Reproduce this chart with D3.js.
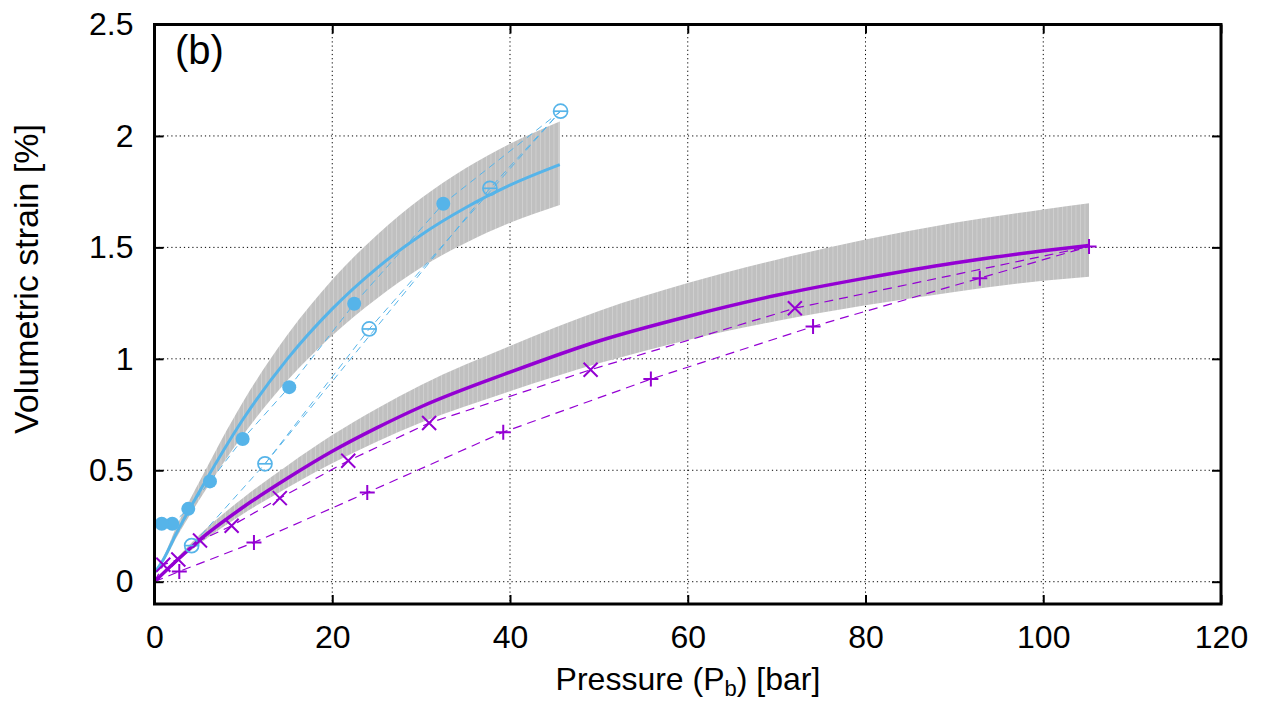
<!DOCTYPE html>
<html>
<head>
<meta charset="utf-8">
<script src="https://cdn.jsdelivr.net/npm/d3@7"></script>
<style>
  html, body { margin: 0; padding: 0; background: #fff; }
  svg { display: block; font-family: "Liberation Sans", Arial, Helvetica, sans-serif; }
</style>
</head>
<body>
<svg id="chart" width="1264" height="703"></svg>
<script>
// ---------------- data ----------------
const xTicks = [0, 20, 40, 60, 80, 100, 120];
const yTicks = [0, 0.5, 1, 1.5, 2, 2.5];
const yTickLabels = ["0", "0.5", "1", "1.5", "2", "2.5"];

// blue fit curve and its uncertainty band
const blueFitX = [0, 1, 2.5, 5, 10, 15, 20, 25, 30, 35, 40, 45.6];
const blueFitY = [0.04, 0.10, 0.22, 0.40, 0.731, 1.002, 1.224, 1.406, 1.556, 1.678, 1.779, 1.871];
const blueBandUpper = [0.04, 0.11, 0.25, 0.445, 0.81, 1.11, 1.355, 1.555, 1.72, 1.855, 1.965, 2.065];
const blueBandLower = [0.04, 0.09, 0.20, 0.364, 0.66, 0.905, 1.105, 1.27, 1.41, 1.52, 1.61, 1.69];

// purple fit curve and its uncertainty band
const purpleFitX = [0, 2.5, 5, 10, 15, 20, 25, 30, 40, 50, 60, 70, 80, 90, 100, 105.15];
const purpleFitY = [0, 0.095, 0.185, 0.335, 0.465, 0.585, 0.69, 0.785, 0.94, 1.08, 1.19, 1.285, 1.362, 1.43, 1.485, 1.508];
const purpleBandUpper = [0, 0.105, 0.208, 0.377, 0.523, 0.658, 0.776, 0.883, 1.058, 1.215, 1.34, 1.445, 1.535, 1.61, 1.67, 1.698];
const purpleBandLower = [0, 0.087, 0.168, 0.305, 0.423, 0.532, 0.628, 0.714, 0.855, 0.98, 1.085, 1.17, 1.24, 1.30, 1.35, 1.368];

// blue measurements: open circles (loading) and filled circles (unloading)
const blueOpenX = [4.18, 12.43, 24.16, 37.74, 45.69];
const blueOpenY = [0.162, 0.529, 1.134, 1.765, 2.111];
const blueFilledX = [32.49, 22.47, 15.16, 9.92, 6.24, 3.8, 2.0, 0.81];
const blueFilledY = [1.696, 1.247, 0.873, 0.64, 0.45, 0.327, 0.26, 0.26];
// dashed connection paths of the blue measurements
const blueLoadPathX = [0.4, 4.18, 12.43, 24.16, 45.69];
const blueLoadPathY = [0.02, 0.162, 0.529, 1.134, 2.111];
const blueLoad2PathX = [12.43, 37.74, 45.69];
const blueLoad2PathY = [0.529, 1.765, 2.111];
const blueUnloadPathX = [45.69, 32.49, 22.47, 15.16, 9.92, 6.24, 3.8, 2.0, 0.81];
const blueUnloadPathY = [2.111, 1.696, 1.247, 0.873, 0.64, 0.45, 0.327, 0.26, 0.26];

// purple measurements: crosses (x) and plus signs (+)
const crossX = [0.99, 2.68, 5.12, 8.68, 14.1, 21.8, 30.9, 49.07, 72.05];
const crossY = [0.076, 0.100, 0.185, 0.251, 0.375, 0.543, 0.712, 0.951, 1.227];
const plusX = [2.79, 11.19, 23.94, 39.24, 55.85, 74.1, 92.86, 105.15];
const plusY = [0.046, 0.176, 0.400, 0.671, 0.909, 1.145, 1.362, 1.504];
const crossPathX = [0, 0.99, 2.68, 5.12, 8.68, 14.1, 21.8, 30.9, 49.07, 72.05, 105.15];
const crossPathY = [0, 0.076, 0.100, 0.185, 0.251, 0.375, 0.543, 0.712, 0.951, 1.227, 1.504];
const plusPathX = [0, 2.79, 11.19, 23.94, 39.24, 55.85, 74.1, 92.86, 105.15];
const plusPathY = [0, 0.046, 0.176, 0.400, 0.671, 0.909, 1.145, 1.362, 1.504];

// ---------------- styles ----------------
const BLUE = "#56b4e9";
const PURPLE = "#9400d3";
const BAND = "#c0c0c0";
const FONT = "'Liberation Sans', Arial, sans-serif";

const L = 154.5, R = 1221, T = 24.5, B = 604;
const svg = d3.select("#chart");

const x = d3.scaleLinear().domain([0, 120]).range([L, R]);
const y = d3.scaleLinear().domain([-0.1, 2.5]).range([B, T]);

const zip = (xs, ys) => xs.map((v, i) => [v, ys[i]]);

// stripe pattern for the bands
const defs = svg.append("defs");
const pat = defs.append("pattern").attr("id", "stripes").attr("patternUnits", "userSpaceOnUse")
  .attr("width", 4.5).attr("height", 10);
pat.append("rect").attr("width", 4.5).attr("height", 10).attr("fill", BAND);
pat.append("rect").attr("x", 0).attr("width", 0.8).attr("height", 10).attr("fill", "#d2d2d2");

defs.append("clipPath").attr("id", "plotclip").append("rect")
  .attr("x", L).attr("y", T).attr("width", R - L).attr("height", B - T);

// grid
const grid = svg.append("g");
grid.selectAll("line.gx").data(xTicks.filter(d => d > 0 && d < 120)).join("line")
  .attr("x1", d => x(d)).attr("x2", d => x(d)).attr("y1", T).attr("y2", B)
  .attr("stroke", "#000").attr("stroke-width", 1).attr("stroke-dasharray", "1.2,3");
grid.selectAll("line.gy").data(yTicks.filter(d => d < 2.5)).join("line")
  .attr("x1", L).attr("x2", R).attr("y1", d => y(d)).attr("y2", d => y(d))
  .attr("stroke", "#000").attr("stroke-width", 1).attr("stroke-dasharray", "1.2,3");

const plot = svg.append("g").attr("clip-path", "url(#plotclip)");

// bands
const area = d3.area().x(d => x(d[0])).y0(d => y(d[1])).y1(d => y(d[2])).curve(d3.curveMonotoneX);
plot.append("path")
  .datum(blueFitX.map((v, i) => [v, blueBandLower[i], blueBandUpper[i]]))
  .attr("d", area).attr("fill", "url(#stripes)");
plot.append("path")
  .datum(purpleFitX.map((v, i) => [v, purpleBandLower[i], purpleBandUpper[i]]))
  .attr("d", area).attr("fill", "url(#stripes)");

const lineLin = d3.line().x(d => x(d[0])).y(d => y(d[1]));
const lineSmooth = d3.line().x(d => x(d[0])).y(d => y(d[1])).curve(d3.curveMonotoneX);

// dashed measurement paths
[[blueLoadPathX, blueLoadPathY], [blueLoad2PathX, blueLoad2PathY], [blueUnloadPathX, blueUnloadPathY]]
  .forEach(([xs, ys]) => {
    plot.append("path").datum(zip(xs, ys)).attr("d", lineLin)
      .attr("fill", "none").attr("stroke", BLUE).attr("stroke-width", 1)
      .attr("stroke-dasharray", "7,5");
  });
[[crossPathX, crossPathY], [plusPathX, plusPathY]].forEach(([xs, ys]) => {
  plot.append("path").datum(zip(xs, ys)).attr("d", lineLin)
    .attr("fill", "none").attr("stroke", PURPLE).attr("stroke-width", 1.2)
    .attr("stroke-dasharray", "9,6");
});

// fit curves
plot.append("path").datum(zip(blueFitX, blueFitY)).attr("d", lineSmooth)
  .attr("fill", "none").attr("stroke", BLUE).attr("stroke-width", 3);
plot.append("path").datum(zip(purpleFitX, purpleFitY)).attr("d", lineSmooth)
  .attr("fill", "none").attr("stroke", PURPLE).attr("stroke-width", 3.5);

// markers
const marks = svg.append("g");
marks.selectAll("circle.filled").data(zip(blueFilledX, blueFilledY)).join("circle")
  .attr("cx", d => x(d[0])).attr("cy", d => y(d[1])).attr("r", 7).attr("fill", BLUE);
const openG = marks.selectAll("g.open").data(zip(blueOpenX, blueOpenY)).join("g")
  .attr("transform", d => `translate(${x(d[0])},${y(d[1])})`);
openG.append("circle").attr("r", 7).attr("fill", "none").attr("stroke", BLUE).attr("stroke-width", 1.7);
openG.append("line").attr("x1", -6.8).attr("x2", 6.8).attr("y1", 0).attr("y2", 0)
  .attr("stroke", BLUE).attr("stroke-width", 1.7);

const crossG = marks.selectAll("g.cross").data(zip(crossX, crossY)).join("g")
  .attr("transform", d => `translate(${x(d[0])},${y(d[1])})`);
crossG.append("path").attr("d", "M-7,-7L7,7M-7,7L7,-7")
  .attr("stroke", PURPLE).attr("stroke-width", 2).attr("fill", "none");
const plusG = marks.selectAll("g.plus").data(zip(plusX, plusY)).join("g")
  .attr("transform", d => `translate(${x(d[0])},${y(d[1])})`);
plusG.append("path").attr("d", "M-7.5,0L7.5,0M0,-7.5L0,7.5")
  .attr("stroke", PURPLE).attr("stroke-width", 2).attr("fill", "none");

// axes
const tickLen = 9;
const yAxis = d3.axisLeft(y).tickValues(yTicks).tickFormat((d, i) => yTickLabels[i])
  .tickSizeInner(-tickLen).tickSizeOuter(0).tickPadding(21);
const gy = svg.append("g").attr("transform", `translate(${L},0)`).call(yAxis);
const yAxisR = d3.axisRight(y).tickValues(yTicks).tickFormat("").tickSizeInner(-tickLen).tickSizeOuter(0);
const gyr = svg.append("g").attr("transform", `translate(${R},0)`).call(yAxisR);
const xAxis = d3.axisBottom(x).tickValues(xTicks).tickFormat(d3.format("d"))
  .tickSizeInner(-tickLen).tickSizeOuter(0).tickPadding(21);
const gx = svg.append("g").attr("transform", `translate(0,${B})`).call(xAxis);
const xAxisT = d3.axisTop(x).tickValues(xTicks).tickFormat("").tickSizeInner(-tickLen).tickSizeOuter(0);
const gxt = svg.append("g").attr("transform", `translate(0,${T})`).call(xAxisT);

[gy, gyr, gx, gxt].forEach(g => {
  g.select(".domain").remove();
  g.selectAll(".tick line").attr("stroke", "#000").attr("stroke-width", 2);
  g.selectAll(".tick text").attr("fill", "#000").style("font-size", "32px")
    .style("font-family", FONT);
});

// frame
svg.append("rect").attr("x", L).attr("y", T).attr("width", R - L).attr("height", B - T)
  .attr("fill", "none").attr("stroke", "#000").attr("stroke-width", 3);

// labels
svg.append("text").attr("x", 175).attr("y", 64).text("(b)")
  .style("font-size", "40px").style("font-family", FONT).attr("fill", "#000");

const xl = svg.append("text").attr("x", 688).attr("y", 690).attr("text-anchor", "middle")
  .style("font-size", "32px").style("font-family", FONT).attr("fill", "#000");
xl.append("tspan").text("Pressure (P");
xl.append("tspan").attr("dy", 6).style("font-size", "22px").text("b");
xl.append("tspan").attr("dy", -6).text(") [bar]");

svg.append("text").attr("transform", `translate(38,279) rotate(-90)`)
  .attr("text-anchor", "middle").style("font-size", "34px").style("font-family", FONT)
  .attr("fill", "#000")
  .text("Volumetric strain [%]");
</script>
</body>
</html>
